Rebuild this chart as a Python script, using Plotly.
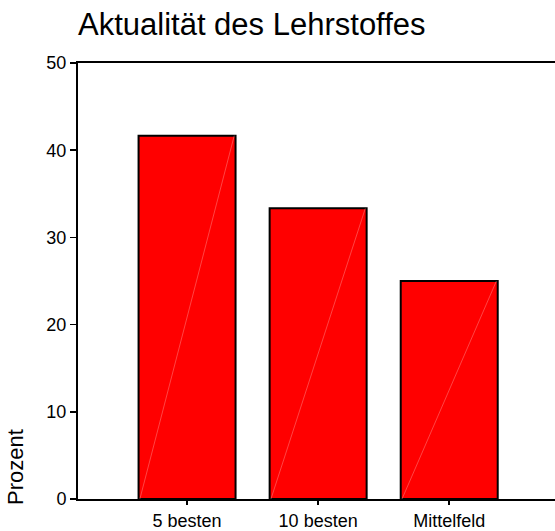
import plotly.graph_objects as go

categories = ["5 besten", "10 besten", "Mittelfeld"]
values = [41.67, 33.33, 25.0]
y_ticks = [0, 10, 20, 30, 40, 50]
title_text = "Aktualität des Lehrstoffes"
y_title = "Prozent"

W, H = 555, 531
bar_width = 0.74
FONT = "Liberation Sans, Arial, sans-serif"

fig = go.Figure()
fig.add_trace(go.Bar(
    x=list(range(len(categories))), y=values, width=bar_width,
    marker=dict(color="#FF0000", line=dict(color="black", width=2)),
    hoverinfo="skip", showlegend=False,
))
# faint diagonal highlight inside each bar (as in the original rendering)
for i, v in enumerate(values):
    fig.add_trace(go.Scatter(
        x=[i - bar_width / 2 + 0.01, i + bar_width / 2 - 0.01], y=[0, v],
        mode="lines", line=dict(color="rgba(255,190,190,0.6)", width=0.6),
        hoverinfo="skip", showlegend=False,
    ))

fig.update_layout(
    width=W, height=H,
    margin=dict(l=78, r=0, t=63, b=28),
    paper_bgcolor="white", plot_bgcolor="white",
    font=dict(family=FONT, color="black", size=18),
    title=dict(text=title_text, x=78 / W, xanchor="left", xref="container",
               y=1 - 24 / H, yanchor="middle", yref="container",
               font=dict(size=31, family=FONT, color="black")),
    bargap=0,
)
fig.update_xaxes(
    range=[-0.832, 2.807],
    tickmode="array", tickvals=list(range(len(categories))), ticktext=categories,
    showline=True, linecolor="black", linewidth=2, mirror=True,
    ticks="outside", ticklen=4, tickwidth=1.5, tickcolor="black",
    showgrid=False, zeroline=False, tickfont=dict(size=18),
)
fig.update_yaxes(
    range=[0, 50], tickmode="array", tickvals=y_ticks,
    showline=True, linecolor="black", linewidth=2, mirror=False,
    ticks="outside", ticklen=6, tickwidth=1.5, tickcolor="black",
    showgrid=False, zeroline=False, tickfont=dict(size=18),
)
fig.add_annotation(
    text=y_title, textangle=-90, showarrow=False,
    xref="paper", x=-63 / (W - 78), xanchor="center",
    yref="paper", y=0, yanchor="bottom", yshift=-8,
    font=dict(size=22, family=FONT, color="black"),
)
fig.write_html(
    "out.html",
    config={"displayModeBar": False, "staticPlot": True},
    post_script="document.body.style.margin='0px';document.body.style.overflow='hidden';",
)
